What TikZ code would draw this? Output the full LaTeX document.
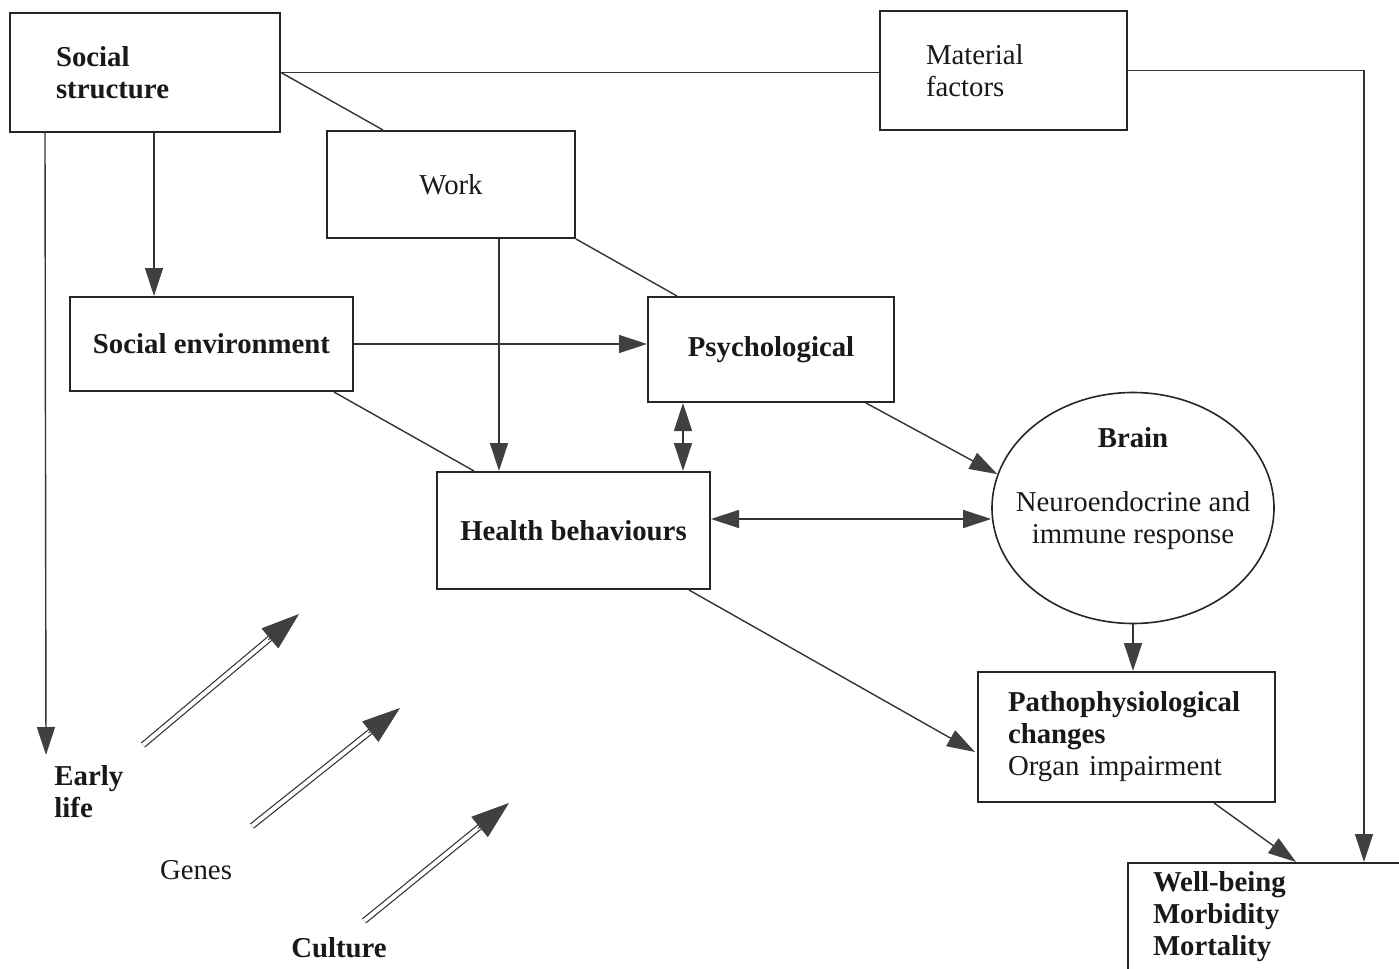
\documentclass[tikz,border=0pt]{standalone}
\usepackage{fontspec}
\setmainfont{Liberation Serif}
\usetikzlibrary{arrows.meta,calc,shapes.geometric}
\begin{document}
\begin{tikzpicture}[x=0.5pt,y=-0.5pt,
  rg/.style={font=\fontsize{14.4}{16}\selectfont, text=black!90},
  bd/.style={font=\fontsize{14.4}{16}\selectfont\bfseries, text=black!90},
  box/.style={draw=black!85, line width=1pt, inner sep=0pt, align=center},
  conn/.style={draw=black!80, line width=0.7pt},
  tip/.tip={Triangle[length=14pt,width=9pt,fill=black!75,color=black!75]},
  arr/.style={conn, -tip},
  darr/.style={conn, tip-tip},
  dshaft/.style={draw=black!80, line width=0.6pt, double=white, double distance=2pt},
  bighead/.style={draw=black!80, line width=0.5pt, -{Triangle[length=19pt,width=13pt,fill=black!75,color=black!75]}}
]
\useasboundingbox (0,0) rectangle (1399,969);
\clip (0,0) rectangle (1399,969);
\fill[white] (0,0) rectangle (1399,969);

% boxes
\node[box, bd, minimum width=135pt, minimum height=59.5pt, text width=89pt, inner xsep=23pt, align=left] (ss) at (145,72.5) {Social\\structure};
\node[box, rg, minimum width=123.5pt, minimum height=59.5pt, text width=77.5pt, inner xsep=23pt, align=left] (mf) at (1003.5,70.5) {Material\\factors};
\node[box, rg, minimum width=124pt, minimum height=53.5pt] (work) at (451,184.5) {Work};
\node[box, bd, minimum width=141.5pt, minimum height=47pt] (se) at (211.5,344) {Social environment};
\node[box, bd, minimum width=123pt, minimum height=52.5pt] (psy) at (771,349.5) {Psychological};
\node[box, bd, minimum width=136.5pt, minimum height=58.5pt] (hb) at (573.5,530.5) {Health behaviours};
\node[draw=black!85, line width=0.8pt, ellipse, minimum width=141pt, minimum height=115.5pt, inner sep=0pt] (brain) at (1133,508) {};
\node[rg, align=center, inner sep=0pt] (braintxt) at (1133,489) {\textbf{Brain}\\[16pt]Neuroendocrine and\\immune response};
\node[box, rg, minimum width=148.5pt, minimum height=65pt, text width=118.5pt, inner xsep=15pt, align=left] (patho) at (1126.5,737) {\textbf{Pathophysiological}\\\textbf{changes}\\Organ impairment};
\node[box, bd, anchor=north west, text width=150pt, inner xsep=12.5pt, inner ysep=4.5pt, align=left] (wb) at (1127,862) {Well-being\\Morbidity\\Mortality\\[30pt]\mbox{}};

% free labels
\node[bd, align=left, inner sep=0pt, anchor=west] (el) at (54,792) {Early\\life};
\node[rg, inner sep=0pt] (genes) at (196,870) {Genes};
\node[bd, inner sep=0pt] (culture) at (339,948) {Culture};

% coordinates
\coordinate (elTop) at (46,755);
\coordinate (wbIn) at (1364,862);

% connectors
\draw[conn] (ss.east) -- (ss.east -| mf.west);
\draw[arr] (mf.east) -| (wbIn);
\draw[arr] ($(ss.south west)+(145,0)$) coordinate (s1) -- (s1 |- se.north);
\draw[arr] ($(ss.south west)+(36,0)$) -- (elTop);
\draw[conn] (ss.east) -- ($(work.north west)+(57,0)$);
\draw[conn] (work.south east) -- ($(psy.north west)+(30,0)$);
\draw[arr] ($(work.south west)+(173,0)$) coordinate (w1) -- (w1 |- hb.north);
\draw[arr] (se.east) -- (se.east -| psy.west);
\draw[conn] ($(se.south east)+(-20,0)$) -- ($(hb.north west)+(38,0)$);
\draw[darr] ($(psy.south west)+(36,0)$) coordinate (p1) -- (p1 |- hb.north);
\draw[arr] ($(psy.south east)+(-29,0)$) -- (brain.166);
\draw[darr] ($(hb.east)+(0,-11.5)$) coordinate (h1) -- (h1 -| brain.west);
\draw[arr] ($(hb.south east)+(-22,0)$) -- ($(patho.west)+(-2,15)$);
\draw[arr] (brain.south) -- (brain.south |- patho.north);
\draw[arr] ($(patho.south west)+(237,0)$) -- ($(wb.north west)+(169,0)$);

% double-shaft arrows
\coordinate (g1s) at (143,745); \coordinate (g1t) at (299,614);
\coordinate (g2s) at (252,826); \coordinate (g2t) at (400,708);
\coordinate (g3s) at (364,921); \coordinate (g3t) at (509,803);
\foreach \s/\t in {g1s/g1t, g2s/g2t, g3s/g3t}{
  \draw[dshaft, shorten >=15pt] (\s) -- (\t);
  \draw[bighead] ($(\t)!20pt!(\s)$) -- (\t);
}
\end{tikzpicture}
\end{document}
